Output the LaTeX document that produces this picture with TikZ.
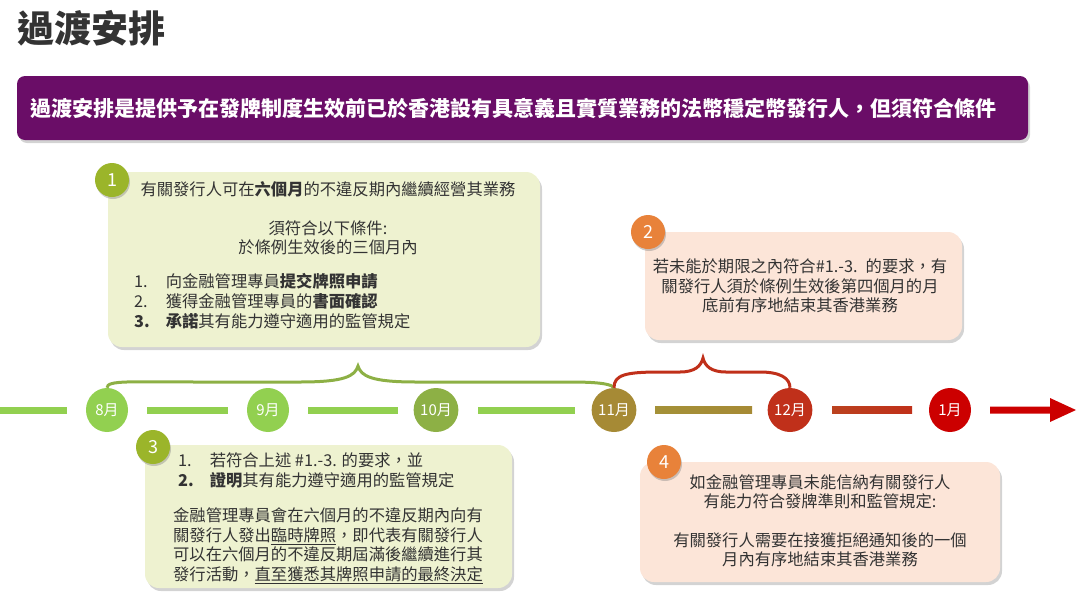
\documentclass[tikz,border=0pt]{standalone}
\usepackage{fontspec}
\setmainfont{Noto Sans CJK TC}
\usetikzlibrary{shadows,shapes.geometric}
\definecolor{purp}{HTML}{6A0D67}
\definecolor{gbox}{HTML}{EEF2D0}
\definecolor{pbox}{HTML}{FCE5D8}
\definecolor{olive}{HTML}{9BB52A}
\definecolor{orng}{HTML}{E8823A}
\definecolor{lg}{HTML}{92D050}
\definecolor{mg}{HTML}{8DB045}
\definecolor{br}{HTML}{A68A35}
\definecolor{rb}{HTML}{C0301A}
\definecolor{rd}{HTML}{CC0000}
\definecolor{txt}{HTML}{333333}
\tikzset{
 box/.style={rounded corners=14pt, drop shadow={shadow xshift=2pt,shadow yshift=-3pt,opacity=0.35}},
 badge/.style={circle, minimum size=34pt, text=white, font=\fontsize{18}{18}\selectfont, inner sep=0pt, drop shadow={shadow xshift=1pt,shadow yshift=-2pt,opacity=0.4}},
 month/.style={ellipse, minimum width=42pt, minimum height=44pt, inner sep=0pt, text=white, font=\fontsize{15}{15}\selectfont},
 btxt/.style={text=txt, font=\fontsize{16.3}{19.5}\selectfont, align=center, inner sep=0pt},
 seg/.style={line width=7pt}
}
\begin{document}
\begin{tikzpicture}[x=1pt,y=-1pt]
\useasboundingbox (0,0) rectangle (1080,595);
\node[anchor=west, font=\fontsize{37}{37}\selectfont\bfseries, text=txt, inner sep=0pt] (title) at (17,28) {過渡安排};
\fill[purp, rounded corners=8pt, drop shadow={shadow xshift=2pt,shadow yshift=-3pt,opacity=0.35}] (17,76) rectangle (1028,140);
\node[text=white, font=\fontsize{21}{21}\selectfont\bfseries, anchor=west, inner sep=0pt] (banner) at (30,108) {過渡安排是提供予在發牌制度生效前已於香港設有具意義且實質業務的法幣穩定幣發行人，但須符合條件};
% boxes
\fill[gbox, box] (108,172) rectangle (540,347);
\fill[pbox, box] (645,232) rectangle (962,340);
\fill[gbox, box] (145,445) rectangle (512,588);
\fill[pbox, box] (640,462) rectangle (1000,582);
\node[badge, fill=olive] (b1) at (112,180) {1};
\node[badge, fill=orng] (b2) at (648,232) {2};
\node[badge, fill=olive] (b3) at (153,447) {3};
\node[badge, fill=orng] (b4) at (664,462) {4};
% box1
\node[btxt] (t1a) at (328,189) {有關發行人可在\textbf{六個月}的不違反期內繼續經營其業務};
\node[btxt] (t1b) at (328,238) {須符合以下條件:\\於條例生效後的三個月內};
\node[btxt, anchor=north west, align=left] (t1c) at (134,273) {\begin{tabular}{@{}l@{\hspace{16pt}}l@{}}1. & 向金融管理專員\textbf{提交牌照申請}\\2. & 獲得金融管理專員的\textbf{書面確認}\\\textbf{3.} & \textbf{承諾}其有能力遵守適用的監管規定\end{tabular}};
% box2
\node[btxt, text width=310pt] (t2) at (800,286) {若未能於期限之內符合\#1.-3. 的要求，有\\關發行人須於條例生效後第四個月的月\\底前有序地結束其香港業務};
% box3
\node[btxt, anchor=north west, align=left] (t3a) at (178,453) {\begin{tabular}{@{}l@{\hspace{16pt}}l@{}}1. & 若符合上述 \#1.-3. 的要求，並\\\textbf{2.} & \textbf{證明}其有能力遵守適用的監管規定\end{tabular}};
\node[btxt] (t3b) at (328,546) {金融管理專員會在六個月的不違反期內向有\\關發行人發出\underline{臨時牌照}，即代表有關發行人\\可以在六個月的不違反期屆滿後繼續進行其\\發行活動，\underline{直至獲悉其牌照申請的最終決定}};
% box4
\node[btxt] (t4a) at (820,492) {如金融管理專員未能信納有關發行人\\有能力符合發牌準則和監管規定:};
\node[btxt] (t4b) at (820,550) {有關發行人需要在接獲拒絕通知後的一個\\月內有序地結束其香港業務};
% timeline
\draw[seg, lg] (0,410) -- (67,410);
\draw[seg, lg] (147,410) -- (228,410);
\draw[seg, lg] (308,410) -- (398,410);
\draw[seg, lg] (478,410) -- (575,410);
\shade[left color=br!90!lg, right color=br] (655,406.5) rectangle (752,413.5);
\shade[left color=rb!80!br, right color=rb] (832,406.5) rectangle (912,413.5);
\fill[rd] (990,406.5) -- (1050,406.5) -- (1050,398) -- (1076,410) -- (1050,422) -- (1050,413.5) -- (990,413.5) -- cycle;
\node[month, fill=lg] (m8) at (107,410) {8月};
\node[month, fill=lg] (m9) at (268,410) {9月};
\node[month, fill=mg] (m10) at (436,410) {10月};
\node[month, fill=br] (m11) at (614,410) {11月};
\node[month, fill=rb] (m12) at (790,410) {12月};
\node[month, fill=rd] (m1) at (950,410) {1月};
% braces
\draw[mg, line width=3pt] (m8.north) .. controls (107,380) and (130,382) .. (200,382) -- (300,382) .. controls (345,382) and (355,376) .. (358,366) .. controls (361,376) and (371,382) .. (416,382) -- (570,382) .. controls (605,382) and (612,385) .. (m11.north);
\draw[rb, line width=3pt] (m11.north) .. controls (614,375) and (625,372) .. (660,372) -- (680,372) .. controls (695,372) and (701,366) .. (703,358) .. controls (705,366) and (711,372) .. (726,372) -- (760,372) .. controls (780,372) and (790,378) .. (m12.north);
\end{tikzpicture}
\end{document}
